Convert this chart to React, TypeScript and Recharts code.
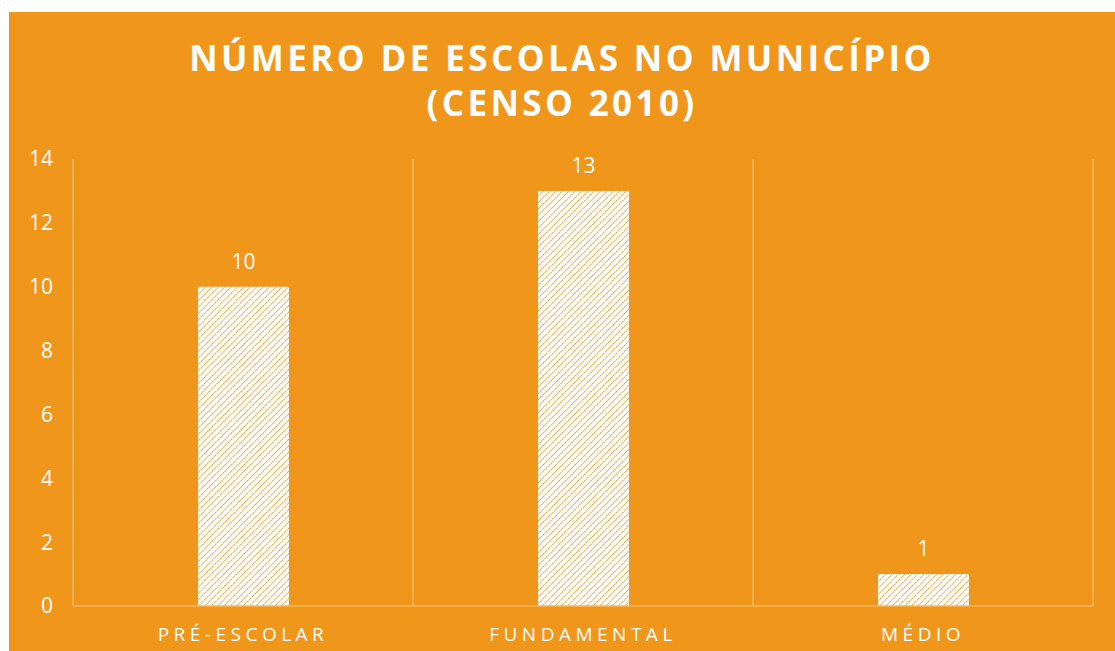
import { BarChart, Bar, XAxis, YAxis, CartesianGrid, LabelList } from 'recharts'

const categories = ['PRÉ-ESCOLAR', 'FUNDAMENTAL', 'MÉDIO']
const escolas = [10, 13, 1]
const yTicks = [0, 2, 4, 6, 8, 10, 12, 14]

const ORANGE = '#F0961A'
const GRID = '#F5B75E'
const FONT = '"Open Sans", "DejaVu Sans", sans-serif'

const data = categories.map((name, i) => ({ name, value: escolas[i] }))

// vertical lines sit between the categories, not at their centres
const boundaryLines = ({ offset }: any) => {
  const n = categories.length
  return Array.from({ length: n + 1 }, (_, i) => offset.left + (offset.width * i) / n)
}

export default function App() {
  return (
    <div
      style={{
        position: 'absolute',
        left: 9,
        top: 12,
        width: 1106,
        height: 639,
        background: ORANGE,
        fontFamily: FONT,
      }}
    >
      {/* Title */}
      <div
        style={{
          position: 'absolute',
          top: 23,
          left: 0,
          width: '100%',
          textAlign: 'center',
          color: '#fff',
          fontWeight: 700,
          fontSize: 35,
          letterSpacing: 3.4,
          lineHeight: '45px',
        }}
      >
        NÚMERO DE ESCOLAS NO MUNICÍPIO
        <br />
        (CENSO 2010)
      </div>

      <BarChart
        width={1106}
        height={639}
        data={data}
        margin={{ top: 147, right: 22, bottom: 0, left: 0 }}
        style={{ position: 'absolute', left: 0, top: 0 }}
      >
        <defs>
          <pattern id="hatch" width="4.5" height="4.5" patternUnits="userSpaceOnUse" patternTransform="rotate(45)">
            <rect width="4.5" height="4.5" fill="#fff" />
            <line x1="0" y1="0" x2="0" y2="4.5" stroke={ORANGE} strokeWidth="2" strokeDasharray="1.6 0.7" />
          </pattern>
        </defs>
        <CartesianGrid
          horizontal={false}
          stroke={GRID}
          strokeWidth={1.5}
          verticalCoordinatesGenerator={boundaryLines}
        />
        <XAxis
          dataKey="name"
          height={45}
          axisLine={{ stroke: GRID, strokeWidth: 1.5 }}
          tickLine={false}
          tick={{ fill: '#fff', fontSize: 19, letterSpacing: 4.5, fontFamily: FONT }}
          dy={14}
        />
        <YAxis
          width={64}
          domain={[0, 14]}
          ticks={yTicks}
          axisLine={false}
          tickLine={false}
          tick={{ fill: '#fff', fontSize: 21, fontFamily: FONT }}
          dx={-12}
        />
        <Bar dataKey="value" fill="url(#hatch)" barSize={91} isAnimationActive={false}>
          <LabelList
            dataKey="value"
            position="top"
            offset={18}
            fill="#fff"
            fontSize={21}
            fontFamily={FONT}
          />
        </Bar>
      </BarChart>
    </div>
  )
}
